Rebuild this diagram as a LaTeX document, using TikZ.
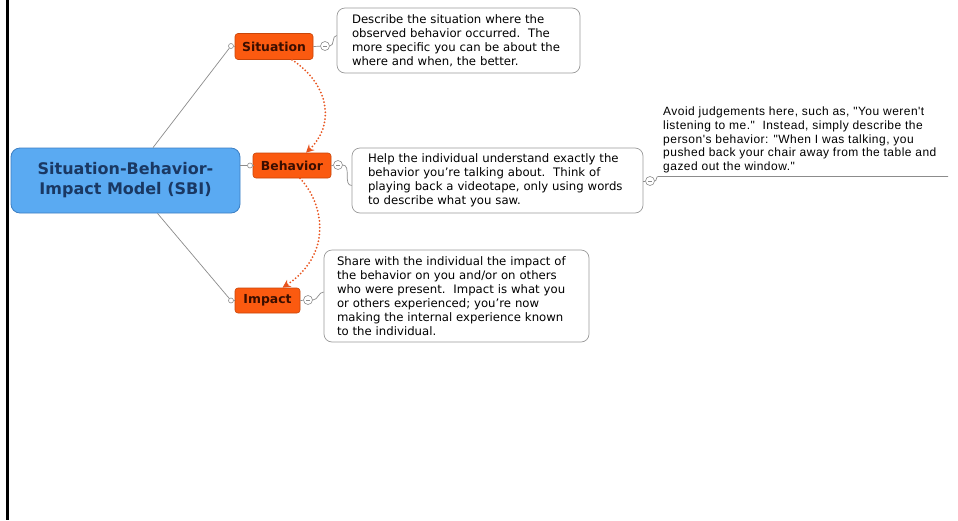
\documentclass[tikz,border=0pt]{standalone}
\usepackage{fontspec}
\setmainfont{DejaVu Sans}
\newfontfamily\notefont[LetterSpace=4]{Liberation Sans}
\usetikzlibrary{arrows.meta}

\definecolor{hubfill}{HTML}{5AAAF2}
\definecolor{hubedge}{HTML}{3C7FC4}
\definecolor{hubtext}{HTML}{1A3863}
\definecolor{topicfill}{HTML}{FB5A10}
\definecolor{topicedge}{HTML}{C8460A}
\definecolor{topictext}{HTML}{3A0E00}
\definecolor{linkgray}{HTML}{8C8C8C}
\definecolor{boxedge}{HTML}{9A9A9A}
\definecolor{relcol}{HTML}{E8541E}

\tikzset{
  hub/.style={draw=hubedge, fill=hubfill, rounded corners=9pt, line width=0.8pt,
    minimum width=229pt, minimum height=65pt, align=center, inner sep=0pt,
    font=\fontsize{16}{20}\selectfont\bfseries, text=hubtext},
  topic/.style={draw=topicedge, fill=topicfill, rounded corners=3pt, line width=0.6pt,
    minimum height=26pt, inner sep=0pt,
    font=\fontsize{12.4}{14}\selectfont\bfseries, text=topictext},
  notebox/.style={draw=boxedge, fill=white, rounded corners=8pt, line width=0.7pt,
    align=left, inner ysep=0pt, text=black,
    font=\fontsize{11.7}{14}\selectfont},
  knob/.style={circle, draw=linkgray, fill=white, inner sep=0pt, minimum size=5pt, line width=0.6pt},
  fold/.style={circle, draw=linkgray, fill=white, inner sep=0pt, minimum size=9pt, line width=0.6pt,
    path picture={\draw[linkgray, line width=0.6pt]
      ([xshift=-2pt]path picture bounding box.center) -- ([xshift=2pt]path picture bounding box.center);}},
  branch/.style={draw=linkgray, line width=0.7pt},
  relation/.style={draw=relcol, line width=2pt, line cap=round, dash pattern=on 0pt off 3.4pt,
    -{Stealth[length=8pt,width=8pt,fill=relcol]}}
}

\begin{document}
\begin{tikzpicture}[x=1pt, y=-1pt]
  \useasboundingbox (0,0) rectangle (958,520);
  \fill[white] (0,0) rectangle (958,520);
  % page edge on the left
  \fill[black] (6,0) rectangle (8.5,520);

  % central topic
  \node[hub] (hub) at (125.5,180.5) {Situation-Behavior-\\Impact Model (SBI)};

  % main topics
  \node[topic, minimum width=78pt] (sit) at (274,46.5) {Situation};
  \node[topic, minimum width=78pt, minimum height=25pt] (beh) at (292,165.5) {Behavior};
  \node[topic, minimum width=65pt, minimum height=25pt] (imp) at (267.5,300.5) {Impact};

  % attachment knobs and fold buttons
  \node[knob] (sitknob) at (231,46) {};
  \node[knob] (behknob) at (250,165.5) {};
  \node[knob] (impknob) at (231,300.5) {};
  \node[fold] (sitfold) at (325,46) {};
  \node[fold] (behfold) at (338,165) {};
  \node[fold] (impfold) at (308,300) {};

  % explanations
  \node[notebox, inner xsep=15pt, text width=213pt, minimum height=65pt] (sitnote) at (458.5,40.5)
    {Describe the situation where the\\observed behavior occurred.\ \ The\\more specific you can be about the\\where and when, the better.};
  \node[notebox, inner xsep=16pt, text width=259pt, minimum height=65pt] (behnote) at (497.5,180.5)
    {Help the individual understand exactly the\\behavior you're talking about.\ \ Think of\\playing back a videotape, only using words\\to describe what you saw.};
  \node[notebox, inner xsep=13pt, text width=239pt, minimum height=92pt] (impnote) at (456.5,296)
    {Share with the individual the impact of\\the behavior on you and/or on others\\who were present.\ \ Impact is what you\\or others experienced; you're now\\making the internal experience known\\to the individual.};

  % free note attached to the behavior explanation
  \node[fold] (notefold) at (650,181) {};
  \coordinate (lineA) at (658,176.5);
  \coordinate (lineB) at (948,176.5);
  \node[anchor=south west, align=left, inner sep=0pt, text=black,
        font=\notefont\fontsize{12}{13.6}\selectfont] (advice) at (663,173)
    {Avoid judgements here, such as, "You weren't\\listening to me."\ \ Instead, simply describe the\\person's behavior: "When I was talking, you\\pushed back your chair away from the table and\\gazed out the window."};

  % branches
  \draw[branch] ([xshift=27.5pt]hub.north) -- (sitknob);
  \draw[branch] (hub.east |- behknob) -- (behknob);
  \draw[branch] ([xshift=32pt]hub.south) -- (impknob);
  \draw[branch] (sitknob) -- (sit.west);
  \draw[branch] (behknob) -- (beh.west);
  \draw[branch] (impknob) -- (imp.west);
  \draw[branch] (sit.east) -- (sitfold);
  \draw[branch] (beh.east) -- (behfold);
  \draw[branch] (imp.east) -- (impfold);
  \draw[branch] (sitfold.east) to[out=0,in=180] ([yshift=5pt]sitnote.west);
  \draw[branch] (behfold.east) to[out=0,in=180] ([yshift=-5pt]behnote.west);
  \draw[branch] (impfold.east) to[out=0,in=180] ([yshift=4pt]impnote.west);
  \draw[branch] (behnote.east |- notefold) -- (notefold.west);
  \draw[branch] (notefold.east) to[out=0,in=180] (lineA) -- (lineB);

  % relationships between topics
  \draw[relation] ([xshift=18pt]sit.south) .. controls (330,85) and (335,125) .. ([xshift=14pt]beh.north);
  \draw[relation] ([xshift=8pt]beh.south) .. controls (325,205) and (332,255) .. ([xshift=15pt]imp.north);
\end{tikzpicture}
\end{document}
